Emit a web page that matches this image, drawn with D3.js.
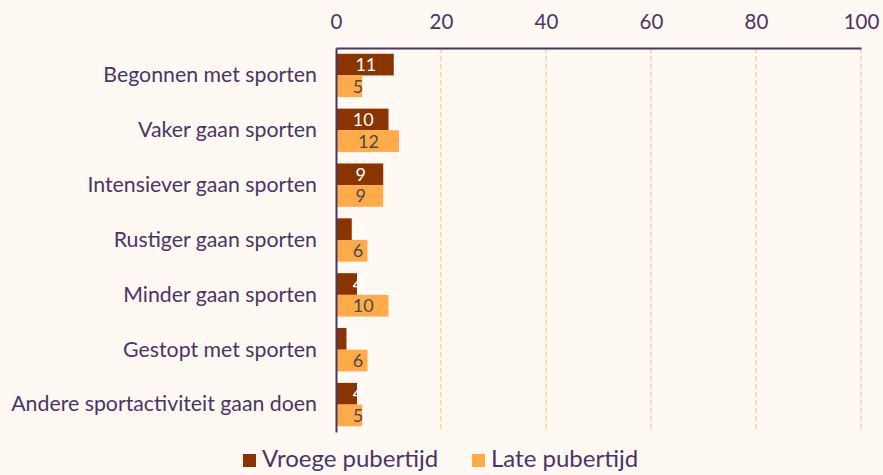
<!DOCTYPE html>
<html>
<head>
<meta charset="utf-8">
<script src="https://cdn.jsdelivr.net/npm/d3@7"></script>
<style>
  body { margin: 0; background: #fff9f3; }
  svg { display: block; font-family: Lato, "Open Sans", sans-serif; }
</style>
</head>
<body>
<div id="vis"></div>
<script>
var categories = ["Begonnen met sporten", "Vaker gaan sporten", "Intensiever gaan sporten",
  "Rustiger gaan sporten", "Minder gaan sporten", "Gestopt met sporten",
  "Andere sportactiviteit gaan doen"];
var seriesNames = ["Vroege pubertijd", "Late pubertijd"];
var vroege = [11, 10, 9, 3, 4, 2, 4];
var late = [5, 12, 9, 6, 10, 6, 5];
var xTicks = [0, 20, 40, 60, 80, 100];

var colors = ["#8a3500", "#ffab4a"];
var labelColors = ["#ffffff", "#4a4a4a"];
var ink = "#4b3466";

var width = 883, height = 475;
var margin = {top: 48, right: 22, bottom: 43, left: 336};

var svg = d3.select("#vis")
    .append("svg")
    .attr("width", width)
    .attr("height", height);

svg.append("rect")
    .attr("width", width)
    .attr("height", height)
    .attr("fill", "#fff9f3");

var x = d3.scaleLinear()
    .domain([0, 100])
    .range([margin.left, width - margin.right]);

var y = d3.scaleBand()
    .domain(categories)
    .range([margin.top, height - margin.bottom])
    .paddingInner(0.21)
    .paddingOuter(0.105);

var ySub = d3.scaleBand()
    .domain([0, 1])
    .range([0, y.bandwidth()]);

// grid
svg.append("g")
  .selectAll("line")
    .data(xTicks.slice(1))
    .enter()
    .append("line")
    .attr("x1", x).attr("x2", x)
    .attr("y1", margin.top)
    .attr("y2", height - margin.bottom)
    .attr("stroke", "#ffd09a")
    .attr("stroke-width", 1.5)
    .attr("stroke-dasharray", "5,3");

// bars
var rows = categories.map(function(c, i) {
  return [{cat: c, s: 0, v: vroege[i]}, {cat: c, s: 1, v: late[i]}];
});

var group = svg.append("g")
  .selectAll("g")
    .data(rows)
    .enter()
    .append("g")
    .attr("transform", function(d) { return "translate(0," + y(d[0].cat) + ")"; });

group.selectAll("rect")
    .data(function(d) { return d; })
    .enter()
    .append("rect")
    .attr("x", x(0))
    .attr("y", function(d) { return ySub(d.s); })
    .attr("width", function(d) { return x(d.v) - x(0); })
    .attr("height", ySub.bandwidth())
    .attr("fill", function(d) { return colors[d.s]; });

// labels sit in the bar centre, but never closer than ~22px to the axis
group.selectAll("text")
    .data(function(d) { return d; })
    .enter()
    .append("text")
    .attr("x", function(d) { return Math.max((x(0) + x(d.v)) / 2 + 1, x(0) + 22); })
    .attr("y", function(d) { return ySub(d.s) + ySub.bandwidth() / 2; })
    .attr("dy", "0.36em")
    .attr("text-anchor", "middle")
    .attr("font-size", 18)
    .attr("fill", function(d) { return labelColors[d.s]; })
    .text(function(d) { return d.v; });

// axes
var xAxis = svg.append("g")
    .attr("transform", "translate(0," + margin.top + ")")
    .call(d3.axisTop(x).tickValues(xTicks).tickSize(0).tickPadding(19));
xAxis.select(".domain").attr("stroke", ink).attr("stroke-width", 2);
xAxis.selectAll("text").attr("font-size", 20.5).attr("fill", ink).attr("font-family", "Lato");

var yAxis = svg.append("g")
    .attr("transform", "translate(" + margin.left + ",0)")
    .call(d3.axisLeft(y).tickSize(0).tickPadding(19));
yAxis.select(".domain").attr("stroke", ink).attr("stroke-width", 2);
yAxis.selectAll("text").attr("font-size", 21.3).attr("fill", ink).attr("font-family", "Lato");

// legend
var legend = svg.append("g")
    .attr("transform", "translate(243,460)");
var legendX = [0, 229];
seriesNames.forEach(function(name, i) {
  var item = legend.append("g").attr("transform", "translate(" + legendX[i] + ",0)");
  item.append("rect")
      .attr("x", 0).attr("y", -6)
      .attr("width", 13).attr("height", 13)
      .attr("fill", colors[i]);
  item.append("text")
      .attr("x", 19).attr("y", 0)
      .attr("dy", "0.3em")
      .attr("font-size", 24)
      .attr("fill", ink)
      .text(name);
});
</script>
</body>
</html>
